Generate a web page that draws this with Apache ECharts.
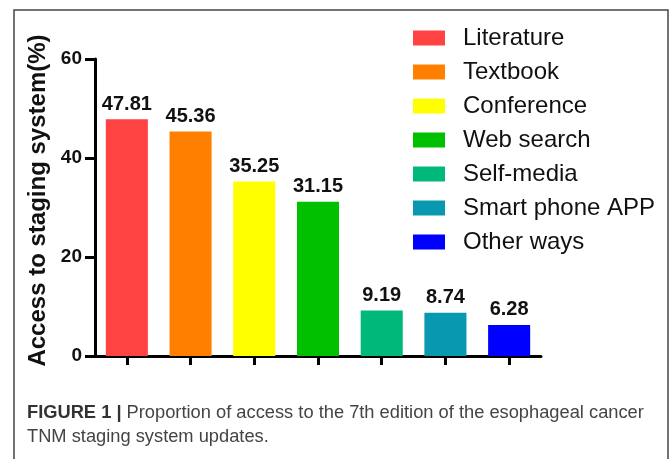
<!DOCTYPE html>
<html>
<head>
<meta charset="utf-8">
<script src="https://cdn.jsdelivr.net/npm/echarts@6/dist/echarts.min.js"></script>
<style>
html,body{margin:0;padding:0;background:#fff;}
#chart{width:672px;height:459px;}
</style>
</head>
<body>
<div id="chart"></div>
<script>
const categories = ["Literature", "Textbook", "Conference", "Web search", "Self-media", "Smart phone APP", "Other ways"];
const values = [47.81, 45.36, 35.25, 31.15, 9.19, 8.74, 6.28];
const colors = ["#FF4343", "#FF8000", "#FFFF00", "#00C000", "#00B87A", "#0898B0", "#0000FF"];
const yTicks = [0, 20, 40, 60];

const FONT = 'Liberation Sans, Arial, sans-serif';
const chart = echarts.init(document.getElementById('chart'));

const series = categories.map((name, i) => ({
  name: name,
  type: 'bar',
  stack: 'all',
  barCategoryGap: '34%',
  data: categories.map((c, j) => j === i ? values[i] : null),
  itemStyle: { color: colors[i] },
  label: {
    show: true,
    position: 'top',
    distance: 5,
    color: '#111',
    fontFamily: FONT,
    fontWeight: 'bold',
    fontSize: 20,
    formatter: p => p.value == null ? '' : p.value.toFixed(2)
  }
}));

chart.setOption({
  animation: false,
  backgroundColor: '#fff',
  grid: { left: 95, right: 131, top: 59, bottom: 103, containLabel: false },
  legend: {
    orient: 'vertical',
    left: 413,
    top: 26,
    padding: 0,
    itemWidth: 32,
    itemHeight: 15,
    itemGap: 10,
    icon: 'rect',
    data: categories,
    textStyle: { fontFamily: FONT, fontSize: 24, color: '#111', padding: [0, 0, 0, 13] }
  },
  xAxis: {
    type: 'category',
    data: categories,
    axisLine: { show: true, lineStyle: { color: '#000', width: 3 } },
    axisTick: { show: true, interval: 0, alignWithLabel: true, length: 9, lineStyle: { color: '#000', width: 3 } },
    axisLabel: { show: false, interval: 0 },
    splitLine: { show: false }
  },
  yAxis: {
    type: 'value',
    min: yTicks[0],
    max: yTicks[yTicks.length - 1],
    interval: 20,
    name: 'Access to staging system(%)',
    nameLocation: 'middle',
    nameGap: 45,
    nameRotate: 90,
    nameTextStyle: { fontFamily: FONT, fontWeight: 'bold', fontSize: 24, color: '#111', padding: [0, 0, 0, 14] },
    axisLine: { show: true, lineStyle: { color: '#000', width: 3 } },
    axisTick: { show: true, length: 10, lineStyle: { color: '#000', width: 3 } },
    axisLabel: { margin: 13, fontFamily: FONT, fontWeight: 'bold', fontSize: 19, color: '#111' },
    splitLine: { show: false }
  },
  graphic: [
    {
      type: 'rect',
      shape: { x: 14, y: 10, width: 654, height: 470 },
      style: { fill: 'none', stroke: '#444', lineWidth: 1.5 },
      silent: true
    },
    {
      type: 'text',
      left: 27,
      top: 401,
      style: {
        text: '{b|FIGURE 1 |} Proportion of access to the 7th edition of the esophageal cancer\nTNM staging system updates.',
        rich: {
          b: { fontWeight: 'bold', fontSize: 18.3, fontFamily: FONT, fill: '#333' }
        },
        font: '18.3px Liberation Sans, Arial, sans-serif',
        fill: '#444',
        lineHeight: 24
      }
    }
  ],
  series: series
});
</script>
</body>
</html>
